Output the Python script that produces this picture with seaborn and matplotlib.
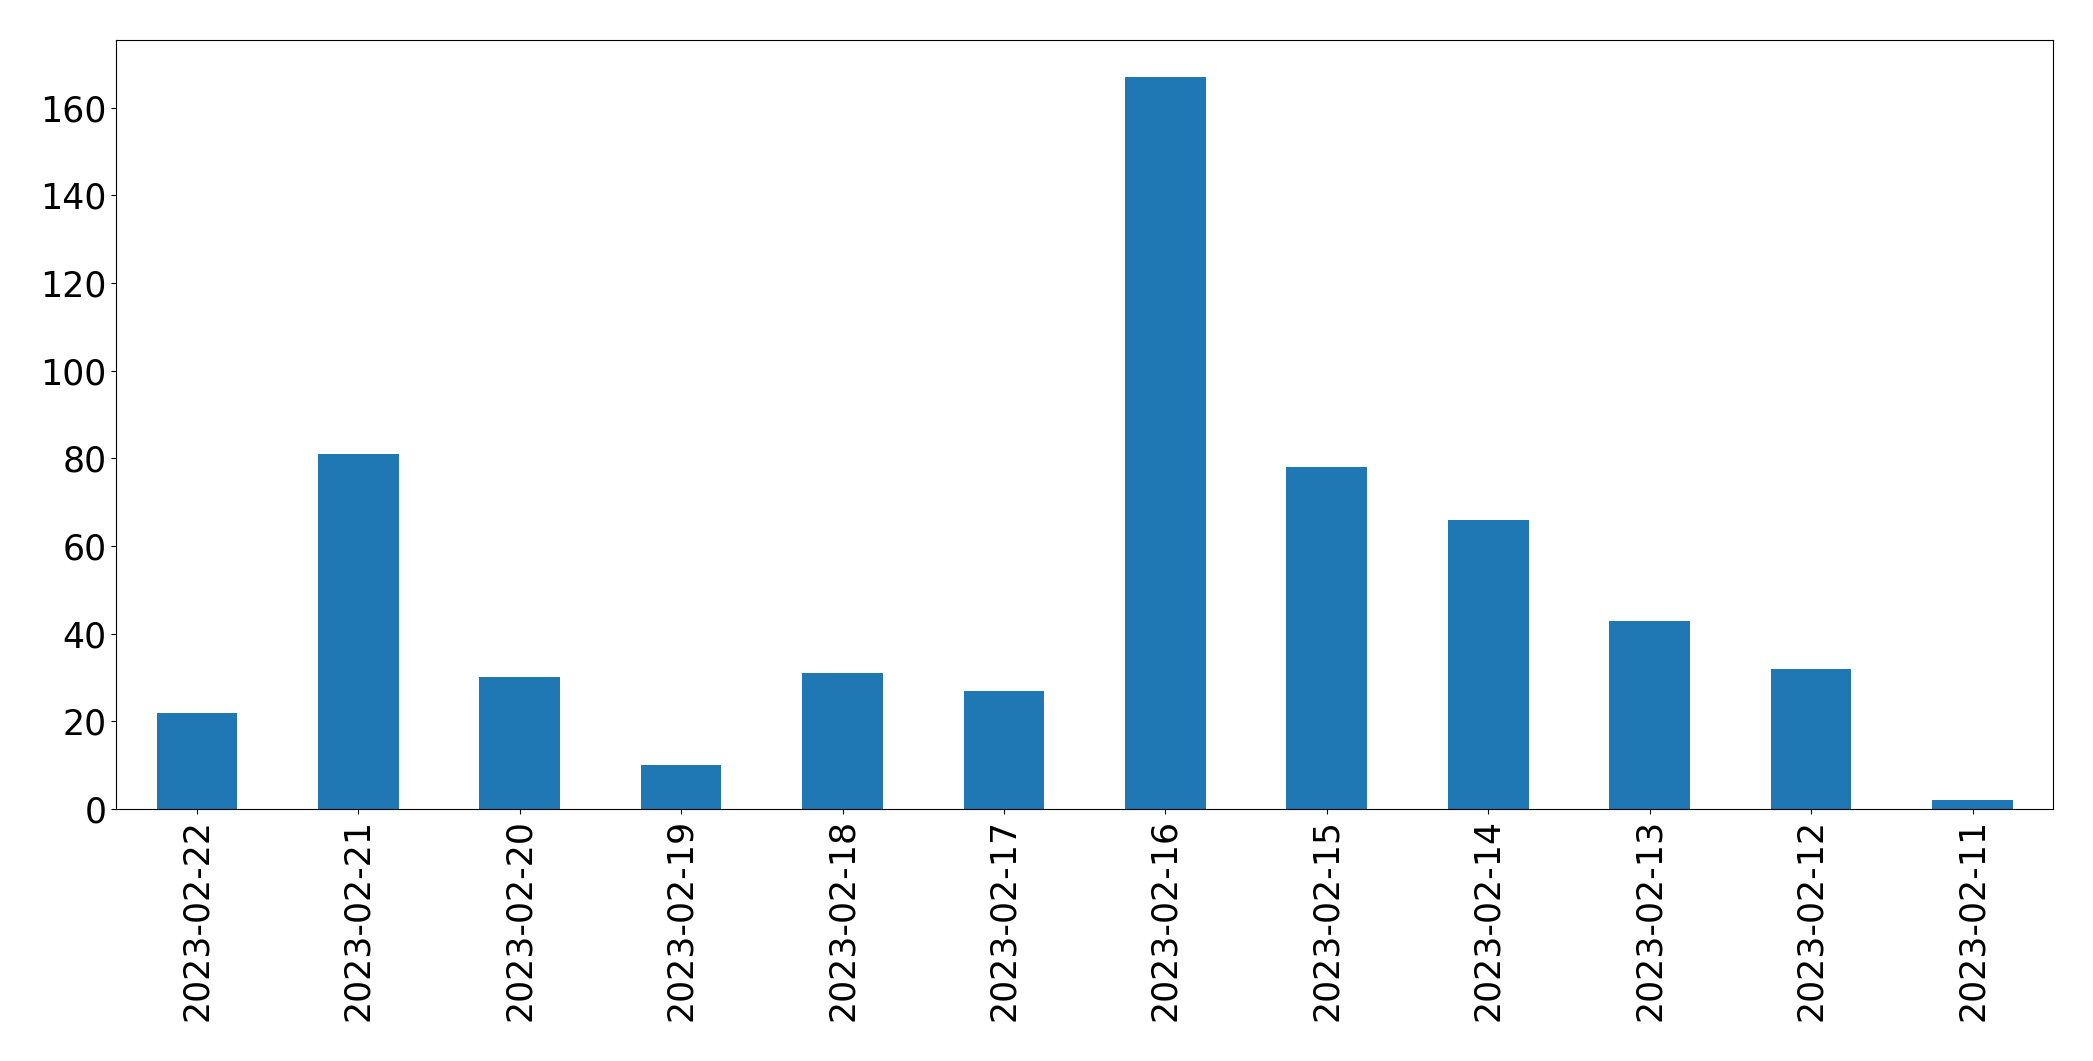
import matplotlib
matplotlib.use('Agg')
import matplotlib.pyplot as plt
import seaborn as sns
import pandas as pd

dates = [
    '2023-02-22', '2023-02-21', '2023-02-20', '2023-02-19', '2023-02-18',
    '2023-02-17', '2023-02-16', '2023-02-15', '2023-02-14', '2023-02-13',
    '2023-02-12', '2023-02-11',
]
counts = [22, 81, 30, 10, 31, 27, 167, 78, 66, 43, 32, 2]

df = pd.DataFrame({'date': dates, 'count': counts})

fig = plt.figure(figsize=(20.93, 10.61), dpi=100)
ax = fig.add_axes([0.0555, 0.2375, 0.9255, 0.7245])
sns.barplot(x='date', y='count', data=df, order=dates, color='#1f77b4',
            saturation=1, width=0.5, ax=ax)
ax.set_xlim(-0.5, len(dates) - 0.5)
ax.set_ylim(0, max(counts) * 1.05)
ax.set_xlabel('')
ax.set_ylabel('')
for s in ax.spines.values():
    s.set_color('black')
ax.tick_params(axis='x', labelrotation=90, labelsize=25)
ax.tick_params(axis='y', labelsize=25)
fig.savefig('out.png', dpi=100)
